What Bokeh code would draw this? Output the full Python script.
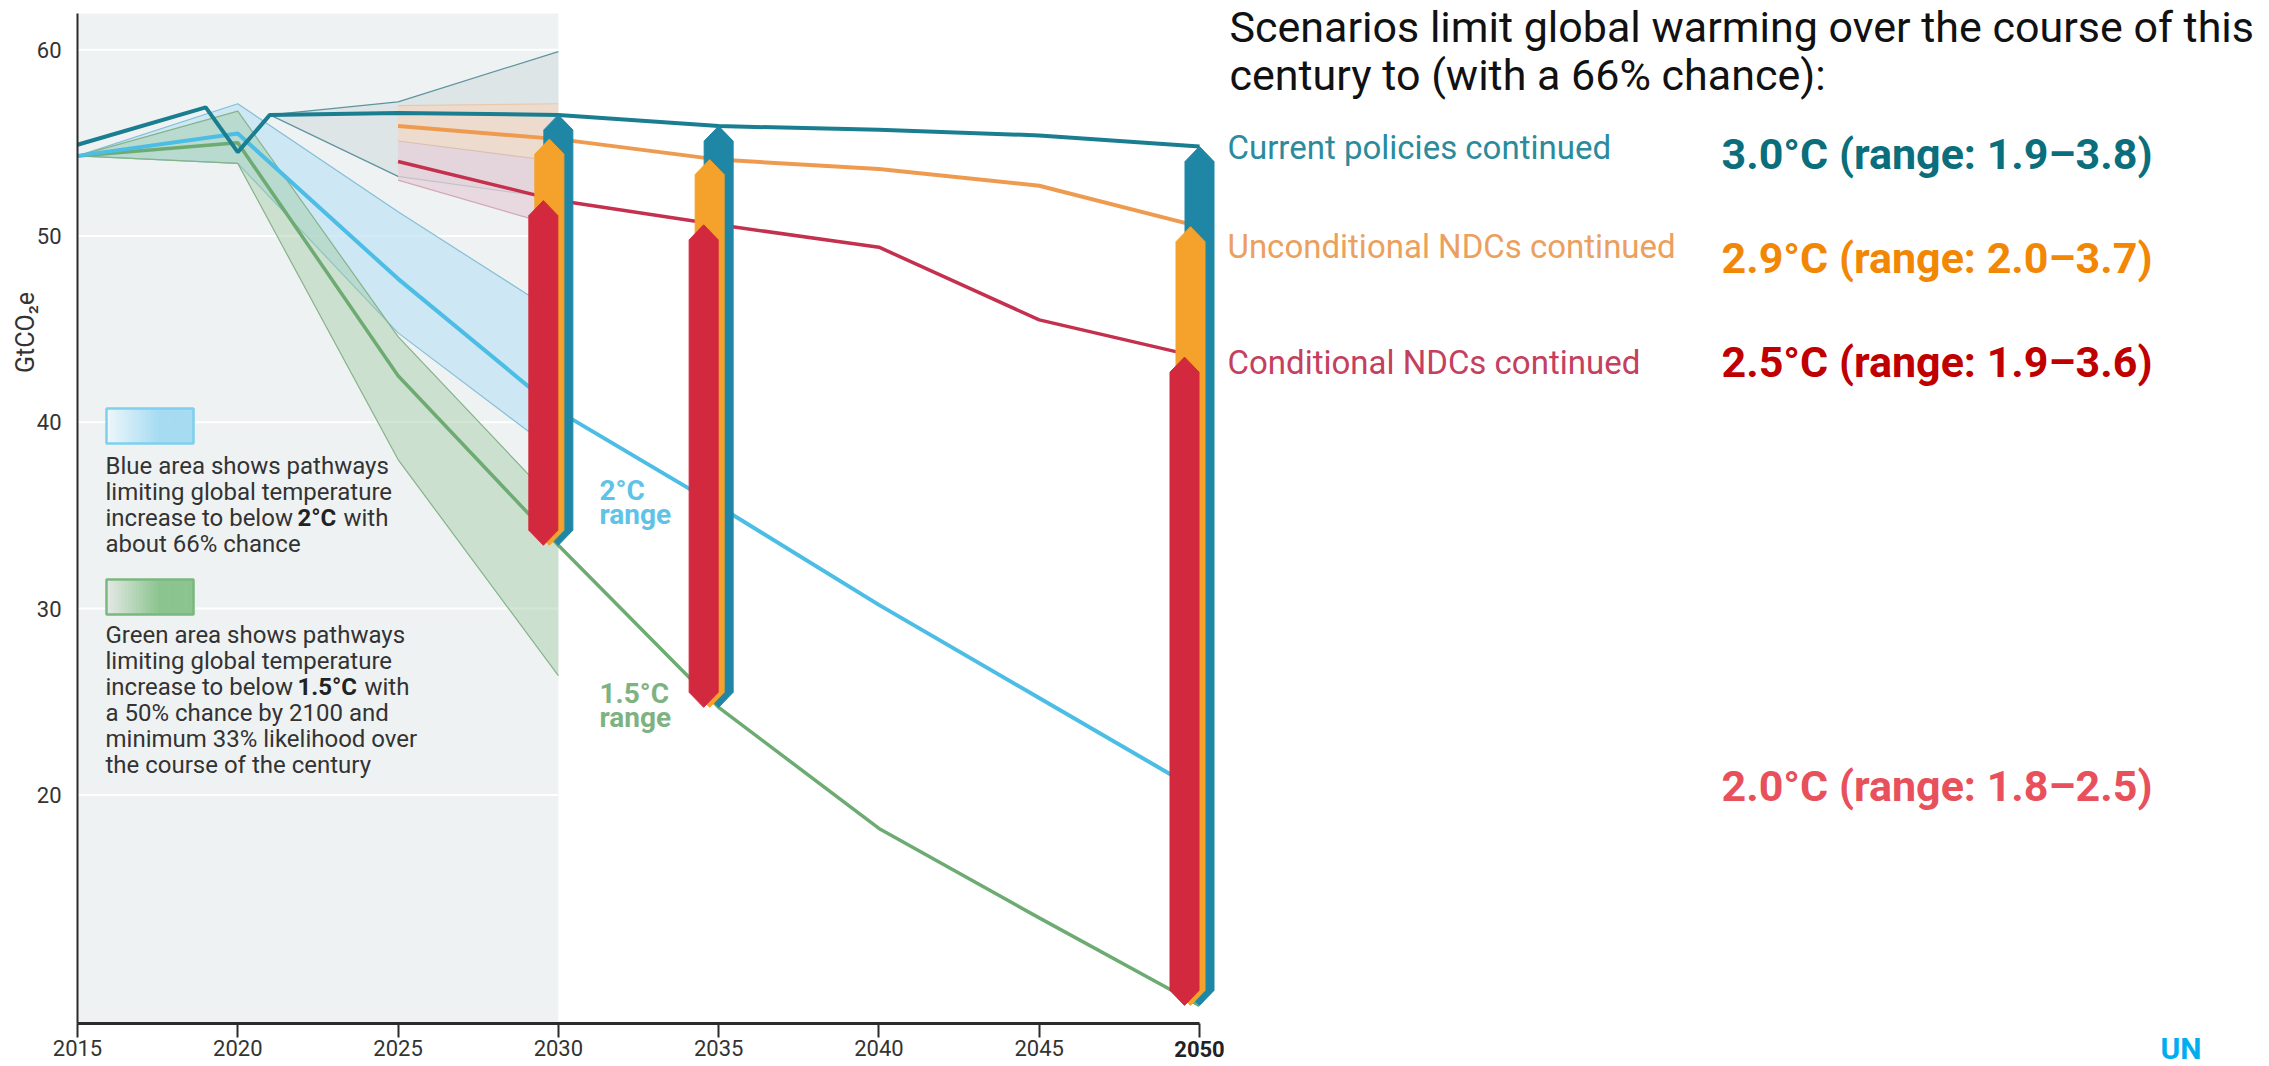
import numpy as np
from bokeh.plotting import figure
from bokeh.models import FixedTicker
from bokeh.core.properties import value
from bokeh.embed import file_html
from bokeh.resources import INLINE

# ---------------- data (GtCO2e) ----------------
current_years = [2015, 2019, 2020, 2021, 2025, 2030, 2035, 2040, 2045, 2050]
current_policies = [54.9, 56.9, 54.5, 56.5, 56.6, 56.5, 55.9, 55.7, 55.4, 54.8]

ndc_years = [2025, 2030, 2035, 2040, 2045, 2050]
unconditional_ndcs = [55.9, 55.2, 54.1, 53.6, 52.7, 50.5]
conditional_ndcs = [54.0, 51.9, 50.6, 49.4, 45.5, 43.5]

path_years = [2015, 2020, 2025, 2030, 2035, 2040, 2045, 2050]
pathway_2c = [54.3, 55.5, 47.7, 40.6, 35.5, 30.2, 25.2, 20.2]
pathway_15c = [54.3, 55.0, 42.5, 33.4, 24.7, 18.2, 13.4, 8.7]

band_years = [2015, 2020, 2025, 2030]
band_2c_low = [54.3, 53.9, 44.8, 38.3]
band_2c_high = [54.3, 57.1, 51.3, 45.8]
band_15c_low = [54.3, 53.9, 38.0, 26.4]
band_15c_high = [54.3, 56.7, 44.6, 35.5]

current_band_years = [2021, 2025, 2030]
current_band_low = [56.5, 53.2, 52.0]
current_band_high = [56.5, 57.2, 59.9]

ndc_band_years = [2025, 2030]
uncond_band_high = [57.0, 57.1]
uncond_band_low = [55.1, 54.0]
cond_band_low = [53.0, 50.5]

gap_years = [2030, 2035, 2050]

x_ticks = [2015, 2020, 2025, 2030, 2035, 2040, 2045, 2050]
y_ticks = [20, 30, 40, 50, 60]
y_axis_min, y_axis_max = 7.73, 61.94
near_term_end = 2030

title_lines = ["Scenarios limit global warming over the course of this",
               "century to (with a 66% chance):"]
scenario_names = ["Current policies continued", "Unconditional NDCs continued",
                  "Conditional NDCs continued"]
warming_texts = ["3.0°C (range: 1.9–3.8)", "2.9°C (range: 2.0–3.7)",
                 "2.5°C (range: 1.9–3.6)", "2.0°C (range: 1.8–2.5)"]

# ---------------- layout helpers (page pixels -> data) ----------------
W, H = 2269, 1066
X2015_PX, X2050_PX = 77.0, 1199.0
Y60_PX, Y20_PX = 49.2, 794.4
PPY = (X2050_PX - X2015_PX) / 35.0
PPU = (Y20_PX - Y60_PX) / 40.0


def xd(px):
    return 2015 + (px - X2015_PX) / PPY


def yd(py):
    return 60 - (py - Y60_PX) / PPU


p = figure(width=W, height=H, x_range=(xd(0), xd(W)), y_range=(yd(H), yd(0)),
           output_backend="svg", toolbar_location=None,
           min_border_left=0, min_border_right=0, min_border_top=0, min_border_bottom=0)
p.outline_line_color = None
p.background_fill_color = "white"
p.border_fill_color = "white"
p.grid.visible = False

FONT = value("Roboto")

# axes drawn at fixed data locations inside the frame
p.xaxis.fixed_location = y_axis_min
p.xaxis.ticker = FixedTicker(ticks=x_ticks)
p.xaxis.bounds = (x_ticks[0], x_ticks[-1])
p.xaxis.axis_line_width = 3
p.xaxis.axis_line_color = "#2b2b2b"
p.xaxis.major_tick_line_color = "#2b2b2b"
p.xaxis.major_tick_line_width = 2
p.xaxis.major_tick_out = 14
p.xaxis.major_tick_in = 0
p.xaxis.minor_tick_line_color = None
p.xaxis.major_label_standoff = 3
p.xaxis.major_label_text_font = "Roboto"
p.xaxis.major_label_text_font_size = "22px"
p.xaxis.major_label_text_color = "#333333"
p.xaxis.major_label_overrides = {x_ticks[-1]: ""}

p.yaxis.fixed_location = x_ticks[0]
p.yaxis.ticker = FixedTicker(ticks=y_ticks)
p.yaxis.bounds = (y_axis_min, y_axis_max)
p.yaxis.axis_line_width = 2
p.yaxis.axis_line_color = "#2b2b2b"
p.yaxis.major_tick_line_color = None
p.yaxis.minor_tick_line_color = None
p.yaxis.major_label_standoff = 10
p.yaxis.major_label_text_font = "Roboto"
p.yaxis.major_label_text_font_size = "22px"
p.yaxis.major_label_text_color = "#333333"

# near-term shaded region + white gridlines
p.quad(left=[x_ticks[0]], right=[near_term_end], bottom=[y_axis_min], top=[y_axis_max],
       fill_color="#eef2f3", line_color=None)
p.segment(x0=[x_ticks[0]] * len(y_ticks), x1=[near_term_end] * len(y_ticks),
          y0=y_ticks, y1=y_ticks, line_color="white", line_width=2)

# ranges
p.varea(x=current_band_years, y1=current_band_low, y2=current_band_high,
        fill_color="#c8d5da", fill_alpha=0.45)
p.line(current_band_years, current_band_high, line_color="#5f949e", line_width=1.2)
p.line(current_band_years, current_band_low, line_color="#5f949e", line_width=1.2)

p.varea(x=ndc_band_years, y1=uncond_band_low, y2=uncond_band_high,
        fill_color="#f2d8c6", fill_alpha=0.75)
p.varea(x=ndc_band_years, y1=cond_band_low, y2=uncond_band_low,
        fill_color="#e6cfd8", fill_alpha=0.75)
p.line(ndc_band_years, uncond_band_high, line_color="#e9c9ad", line_width=1.2)
p.line(ndc_band_years, uncond_band_low, line_color="#d9bfb5", line_width=1.2)
p.line(ndc_band_years, cond_band_low, line_color="#d2a8b4", line_width=1.2)

p.varea(x=band_years, y1=band_2c_low, y2=band_2c_high, fill_color="#bfe2f3", fill_alpha=0.7)
p.line(band_years, band_2c_high, line_color="#86bfd6", line_width=1.2)
p.line(band_years, band_2c_low, line_color="#86bfd6", line_width=1.2)
p.varea(x=band_years, y1=band_15c_low, y2=band_15c_high, fill_color="#9fcaa2", fill_alpha=0.45)
p.line(band_years, band_15c_high, line_color="#86b38a", line_width=1.2)
p.line(band_years, band_15c_low, line_color="#86b38a", line_width=1.2)

# scenario lines
p.line(path_years, pathway_15c, line_color="#6dab72", line_width=3.5)
p.line(path_years, pathway_2c, line_color="#4cbde4", line_width=4)
p.line(ndc_years, conditional_ndcs, line_color="#c4314f", line_width=3.5)
p.line(ndc_years, unconditional_ndcs, line_color="#ee9b50", line_width=4)
p.line(current_years, current_policies, line_color="#1a7e90", line_width=4)

# emission-gap arrows
cur_at = dict(zip(current_years, current_policies))
unc_at = dict(zip(ndc_years, unconditional_ndcs))
con_at = dict(zip(ndc_years, conditional_ndcs))
low_at = dict(zip(path_years, pathway_15c))

hw = 14.5 / PPY
tip = 15.0 / PPU


def arrow(xc, top, bot):
    xs = [xc - hw, xc, xc + hw, xc + hw, xc, xc - hw]
    ys = [top - tip, top, top - tip, bot + tip, bot, bot + tip]
    return xs, ys


for lookup, off_px, color in [(cur_at, 0.0, "#1f87a5"), (unc_at, -9.0, "#f4a22b"),
                              (con_at, -15.0, "#d2293f")]:
    xs_list, ys_list = [], []
    for yr in gap_years:
        xs, ys = arrow(yr + off_px / PPY, lookup[yr], low_at[yr])
        xs_list.append(xs)
        ys_list.append(ys)
    p.patches(xs_list, ys_list, fill_color=color, line_color=color, line_width=1)


# legend boxes with gradient
def grad_box(px_l, px_r, py_t, py_b, c0, c1, edge):
    n = 24
    edges = np.linspace(px_l, px_r, n + 1)
    c0 = np.array([int(c0[i:i + 2], 16) for i in (1, 3, 5)], float)
    c1 = np.array([int(c1[i:i + 2], 16) for i in (1, 3, 5)], float)
    cols = []
    for i in range(n):
        t = min(1.0, (i + 0.5) / n / 0.6)
        c = c0 + (c1 - c0) * t
        cols.append("#%02x%02x%02x" % tuple(int(round(v)) for v in c))
    p.quad(left=[xd(e) for e in edges[:-1]], right=[xd(e) + 0.02 for e in edges[1:]],
           bottom=[yd(py_b)] * n, top=[yd(py_t)] * n, fill_color=cols, line_color=None)
    p.quad(left=[xd(px_l)], right=[xd(px_r)], bottom=[yd(py_b)], top=[yd(py_t)],
           fill_color=None, line_color=edge, line_width=2.5)


grad_box(106, 193, 408, 443, "#eef7fb", "#a6dbf2", "#7fcfee")
grad_box(106, 193, 579, 614, "#e4e9e6", "#8cc490", "#7bb87f")


def txt(px, py, s, size, color, bold=False, align="left", baseline="alphabetic",
        xoff=0, angle=0.0):
    p.text(x=[xd(px)], y=[yd(py)], text=[s], text_font=FONT, text_font_size=value(size),
           text_color=color, text_font_style="bold" if bold else "normal",
           text_align=align, text_baseline=baseline, x_offset=xoff, angle=angle)


# legend text
LEG = "#333333"
LS = "24px"
pre_w = 192.0
txt(105, 465, "Blue area shows pathways", LS, LEG)
txt(105, 491, "limiting global temperature", LS, LEG)
txt(105, 517, "increase to below", LS, LEG)
txt(105, 517, "2°C", LS, "#222222", bold=True, xoff=pre_w)
txt(105, 517, "with", LS, LEG, xoff=pre_w + 46)
txt(105, 543, "about 66% chance", LS, LEG)

txt(105, 634, "Green area shows pathways", LS, LEG)
txt(105, 660, "limiting global temperature", LS, LEG)
txt(105, 686, "increase to below", LS, LEG)
txt(105, 686, "1.5°C", LS, "#222222", bold=True, xoff=pre_w)
txt(105, 686, "with", LS, LEG, xoff=pre_w + 67)
txt(105, 712, "a 50% chance by 2100 and", LS, LEG)
txt(105, 738, "minimum 33% likelihood over", LS, LEG)
txt(105, 764, "the course of the century", LS, LEG)

# pathway range labels
txt(599, 490, "2°C", "28px", "#5ec3e6", bold=True)
txt(599, 514, "range", "28px", "#5ec3e6", bold=True)
txt(599, 693, "1.5°C", "28px", "#7db383", bold=True)
txt(599, 717, "range", "28px", "#7db383", bold=True)

# right-hand text
txt(1229, 1, title_lines[0], "43px", "#111111", baseline="top")
txt(1229, 49, title_lines[1], "43px", "#111111", baseline="top")
for s, py, c in zip(scenario_names, [147, 246, 362], ["#2b8b9d", "#eba05e", "#c4405e"]):
    txt(1227, py, s, "33px", c)
for s, py, c in zip(warming_texts, [153, 257, 361, 785],
                    ["#0b6e7c", "#f28705", "#c00000", "#e8505b"]):
    txt(1721, py, s, "43px", c, bold=True)

# bold last tick label, axis title, logo
txt(X2050_PX, 1040, str(x_ticks[-1]), "22px", "#222222", bold=True, align="center",
    baseline="top")
txt(25, 332, "GtCO₂e", "25px", "#333333", align="center", baseline="middle",
    angle=np.pi / 2)
txt(2160, 1030, "UN", "30px", "#00aeef", bold=True, baseline="top")

open("out.html", "w").write(file_html(p, INLINE))
